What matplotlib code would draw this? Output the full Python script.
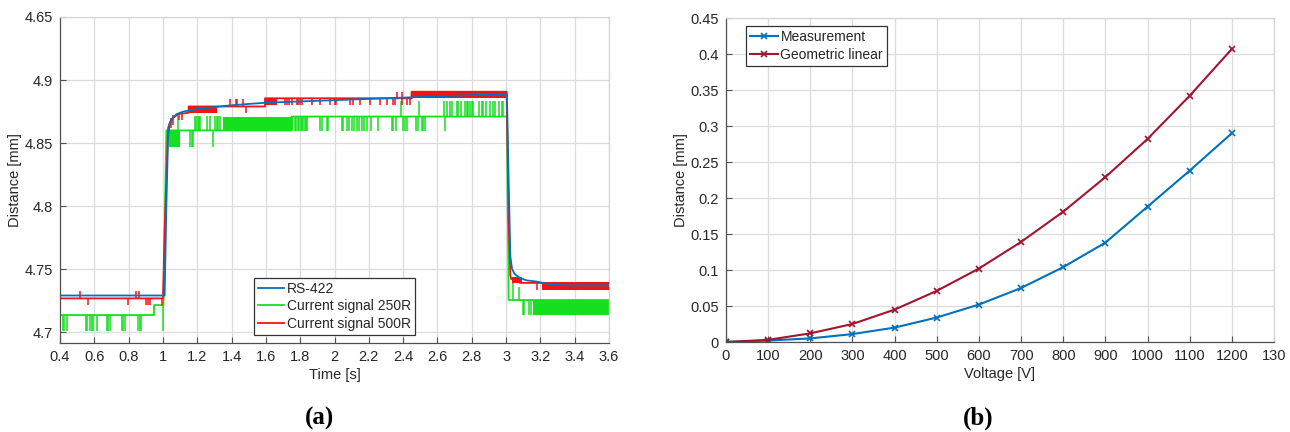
import matplotlib
matplotlib.use("Agg")
import matplotlib.pyplot as plt
import numpy as np

plt.rcParams['font.family'] = ['Liberation Sans', 'DejaVu Sans']

# ---------------- Panel (a) data ----------------
# RS-422 (blue)
rs_t = [0.40, 1.010, 1.020, 1.030, 1.040, 1.050, 1.080, 1.120, 1.200, 1.400, 1.600,
        2.000, 2.400, 2.800, 3.005, 3.015, 3.025, 3.035, 3.050, 3.080, 3.120, 3.180,
        3.250, 3.350, 3.600]
rs_v = [4.729, 4.729, 4.800, 4.855, 4.866, 4.869, 4.873, 4.875, 4.877, 4.880, 4.882,
        4.884, 4.886, 4.888, 4.889, 4.820, 4.760, 4.750, 4.746, 4.743, 4.741, 4.740,
        4.738, 4.737, 4.737]

# Current signal 500R (red) base level
r5_t = [0.40, 1.000, 1.012, 1.030, 1.040, 1.060, 1.090, 1.150, 1.150, 1.595, 1.595,
        2.449, 2.449, 3.003, 3.015, 3.025, 3.030, 3.080, 3.080, 3.600]
r5_v = [4.7267, 4.7267, 4.790, 4.862, 4.866, 4.870, 4.873, 4.874, 4.879, 4.879, 4.8855,
        4.8855, 4.8907, 4.8907, 4.790, 4.745, 4.742, 4.742, 4.739, 4.739]
# red spikes
r5_spk_t = [0.517, 0.843, 0.862, 0.565, 0.798, 0.901, 0.911, 0.924, 0.993,
            1.045, 1.060, 1.095, 1.113,
            1.391, 1.426, 1.433, 1.464, 1.484,
            1.711, 1.721, 1.736, 1.750, 1.779, 1.789, 1.799, 1.812, 1.867, 1.915,
            1.974, 2.003, 2.009, 2.090, 2.110, 2.149, 2.207, 2.265, 2.304, 2.343,
            2.353, 2.392, 2.421, 2.440, 2.362, 2.392, 3.178]
r5_spk_lo = [4.7267, 4.7267, 4.7267, 4.7214, 4.7214, 4.7214, 4.7214, 4.7214, 4.7214,
             4.862, 4.864, 4.868, 4.868,
             4.879, 4.879, 4.879, 4.879, 4.8736,
             4.880, 4.880, 4.880, 4.880, 4.880, 4.880, 4.880, 4.880, 4.880, 4.880,
             4.880, 4.880, 4.880, 4.880, 4.880, 4.880, 4.880, 4.880, 4.880, 4.880,
             4.880, 4.880, 4.880, 4.880, 4.8855, 4.8855, 4.733]
r5_spk_hi = [4.7328, 4.7328, 4.7328, 4.7267, 4.7267, 4.7267, 4.7267, 4.7267, 4.7267,
             4.870, 4.872, 4.874, 4.874,
             4.8846, 4.8846, 4.8846, 4.8846, 4.879,
             4.8855, 4.8855, 4.8855, 4.8855, 4.8855, 4.8855, 4.8855, 4.8855, 4.8855, 4.8855,
             4.8855, 4.8855, 4.8855, 4.8855, 4.8855, 4.8855, 4.8855, 4.8855, 4.8855, 4.8855,
             4.8855, 4.8855, 4.8855, 4.8855, 4.8907, 4.8907, 4.739]
# red dense bands (t0, t1, lo, hi)
r5_band_t0 = [1.154, 1.595, 2.449, 3.032, 3.207]
r5_band_t1 = [1.313, 1.663, 3.003, 3.090, 3.600]
r5_band_lo = [4.8736, 4.8800, 4.8855, 4.7386, 4.7330]
r5_band_hi = [4.8790, 4.8855, 4.8907, 4.7440, 4.7390]

# Current signal 250R (green) base level
g2_t = [0.40, 0.948, 0.948, 1.003, 1.010, 1.020, 1.020, 1.750, 1.750, 3.005, 3.015, 3.600]
g2_v = [4.7135, 4.7135, 4.7214, 4.7214, 4.780, 4.859, 4.860, 4.860, 4.871, 4.871, 4.7254, 4.7254]
# green spikes
g2_spk_t = [0.416, 0.423, 0.439, 0.550, 0.559, 0.575, 0.585, 0.594, 0.617, 0.672, 0.682,
            0.691, 0.760, 0.769, 0.779, 0.857, 0.864, 0.870, 1.000,
            1.090, 1.187, 1.195, 1.203, 1.211, 1.216, 1.255, 1.274, 1.303, 1.313, 1.323, 1.332,
            1.158, 1.167, 1.177, 1.293,
            1.770, 1.778, 1.786, 1.794, 1.802, 1.810, 1.818, 1.826, 1.834, 1.842,
            1.915, 1.925, 1.954, 1.963, 2.042, 2.051, 2.071, 2.085, 2.100, 2.114, 2.129,
            2.143, 2.158, 2.173, 2.188, 2.211, 2.255, 2.333, 2.343, 2.357, 2.401, 2.411,
            2.421, 2.473, 2.485, 2.508, 2.518, 2.527, 2.644,
            2.390, 2.494,
            2.640, 2.653, 2.673, 2.683, 2.712, 2.722, 2.736, 2.761, 2.771, 2.780, 2.790,
            2.800, 2.809, 2.844, 2.858, 2.867, 2.883, 2.906, 2.922, 2.936, 2.961, 2.975, 2.984,
            3.040, 3.077, 3.096, 3.106, 3.135, 3.145]
g2_spk_lo = [4.7008] * 18 + [4.7008] \
    + [4.860] * 12 \
    + [4.847] * 4 \
    + [4.8595] * 39 \
    + [4.871] * 2 \
    + [4.871] * 23 \
    + [4.7254, 4.7254, 4.7135, 4.7135, 4.7135, 4.7135]
g2_spk_hi = [4.7135] * 18 + [4.7214] \
    + [4.8714] * 12 \
    + [4.860] * 4 \
    + [4.871] * 39 \
    + [4.8836] * 2 \
    + [4.8836] * 23 \
    + [4.7410, 4.7360, 4.7254, 4.7254, 4.7254, 4.7254]
# green dense bands
g2_band_t0 = [1.035, 1.352, 3.159]
g2_band_t1 = [1.098, 1.760, 3.600]
g2_band_lo = [4.847, 4.860, 4.7135]
g2_band_hi = [4.860, 4.871, 4.7254]

a_yticks = [4.70, 4.75, 4.80, 4.85, 4.90, 4.95]
a_yticklabels = ["4.7", "4.75", "4.8", "4.85", "4.9", "4.65"]
a_xticks = [0.4, 0.6, 0.8, 1.0, 1.2, 1.4, 1.6, 1.8, 2.0, 2.2, 2.4, 2.6, 2.8, 3.0, 3.2, 3.4, 3.6]
a_xticklabels = ["0.4", "0.6", "0.8", "1", "1.2", "1.4", "1.6", "1.8", "2", "2.2", "2.4",
                 "2.6", "2.8", "3", "3.2", "3.4", "3.6"]

# ---------------- Panel (b) data ----------------
voltage = [0, 100, 200, 300, 400, 500, 600, 700, 800, 900, 1000, 1100, 1200]
measurement = [0.000, 0.002, 0.005, 0.011, 0.020, 0.034, 0.052, 0.075, 0.104, 0.138, 0.188, 0.238, 0.290]
geometric = [0.000, 0.003, 0.012, 0.025, 0.045, 0.071, 0.102, 0.139, 0.181, 0.229, 0.282, 0.342, 0.407]
b_xticks = list(range(0, 1301, 100))
b_xticklabels = [str(v) for v in range(0, 1201, 100)] + ["130"]
b_yticks = [0, 0.05, 0.1, 0.15, 0.2, 0.25, 0.3, 0.35, 0.4, 0.45]
b_yticklabels = ["0", "0.05", "0.1", "0.15", "0.2", "0.25", "0.3", "0.35", "0.4", "0.45"]

# ---------------- colours / style ----------------
C_BLUE = "#0072BD"
C_GREEN = "#14E01E"
C_RED = "#F01414"
C_DRED = "#A2142F"
GRID = "#DCDCDC"
AX = "#505050"
TXT = "#262626"
FS = 10.5
LFS = 10

fig = plt.figure(figsize=(12.9, 4.32), dpi=100)
W, H = 1290, 432


def frac(x0, y0, x1, y1):
    return [x0 / W, 1 - y1 / H, (x1 - x0) / W, (y1 - y0) / H]


def style(ax):
    ax.grid(True, color=GRID, lw=0.9)
    ax.set_axisbelow(True)
    for s in ["left", "bottom"]:
        ax.spines[s].set_color(AX)
        ax.spines[s].set_linewidth(0.9)
    for s in ["top", "right"]:
        ax.spines[s].set_color("#D4D4D4")
        ax.spines[s].set_linewidth(0.9)
    ax.tick_params(direction="in", length=4, width=0.8, color=AX, labelsize=FS,
                   labelcolor=TXT, pad=5)


# ---- (a) ----
ax1 = fig.add_axes(frac(60, 17, 609, 343))
style(ax1)
for t0, t1, lo, hi in zip(g2_band_t0, g2_band_t1, g2_band_lo, g2_band_hi):
    ax1.fill_between([t0, t1], [lo, lo], [hi, hi], color=C_GREEN, lw=0, zorder=2)
ax1.vlines(g2_spk_t, g2_spk_lo, g2_spk_hi, color=C_GREEN, lw=1.1, zorder=2)
lg, = ax1.plot(g2_t, g2_v, color=C_GREEN, lw=1.3, zorder=2, label="Current signal 250R")
for t0, t1, lo, hi in zip(r5_band_t0, r5_band_t1, r5_band_lo, r5_band_hi):
    ax1.fill_between([t0, t1], [lo, lo], [hi, hi], color=C_RED, lw=0, zorder=3)
ax1.vlines(r5_spk_t, r5_spk_lo, r5_spk_hi, color=C_RED, lw=1.1, zorder=3)
lr, = ax1.plot(r5_t, r5_v, color=C_RED, lw=1.3, zorder=3, label="Current signal 500R")
lb, = ax1.plot(rs_t, rs_v, color=C_BLUE, lw=1.3, zorder=4, label="RS-422")

ax1.set_xlim(0.4, 3.6)
ax1.set_ylim(4.6913, 4.95)
ax1.set_xticks(a_xticks)
ax1.set_xticklabels(a_xticklabels)
ax1.set_yticks(a_yticks)
ax1.set_yticklabels(a_yticklabels)
ax1.set_xlabel("Time [s]", fontsize=FS, color=TXT, labelpad=3)
ax1.set_ylabel("Distance [mm]", fontsize=FS, color=TXT, labelpad=2)
leg1 = ax1.legend(handles=[lb, lg, lr], loc="lower left", bbox_to_anchor=(0.353, 0.025),
                  borderaxespad=0, fancybox=False, edgecolor="#333333", framealpha=1,
                  fontsize=LFS, handlelength=1.9, handletextpad=0.2, borderpad=0.3,
                  labelspacing=0.25)
leg1.get_frame().set_linewidth(0.9)
for tx in leg1.get_texts():
    tx.set_color(TXT)

# ---- (b) ----
ax2 = fig.add_axes(frac(726, 18, 1274, 342))
style(ax2)
ax2.plot(voltage, measurement, color=C_BLUE, lw=1.5, marker="x", ms=4, mew=1.2,
         label="Measurement")
ax2.plot(voltage, geometric, color=C_DRED, lw=1.5, marker="x", ms=4, mew=1.2,
         label="Geometric linear")
ax2.set_xlim(0, 1300)
ax2.set_ylim(0, 0.45)
ax2.set_xticks(b_xticks)
ax2.set_xticklabels(b_xticklabels)
ax2.set_yticks(b_yticks)
ax2.set_yticklabels(b_yticklabels)
ax2.set_xlabel("Voltage [V]", fontsize=FS, color=TXT, labelpad=3)
ax2.set_ylabel("Distance [mm]", fontsize=FS, color=TXT, labelpad=2)
leg2 = ax2.legend(loc="upper left", bbox_to_anchor=(0.036, 0.975), borderaxespad=0,
                  fancybox=False, edgecolor="#333333", framealpha=1, fontsize=LFS,
                  handlelength=2.0, handletextpad=0.2, borderpad=0.3, labelspacing=0.25)
leg2.get_frame().set_linewidth(0.9)
for tx in leg2.get_texts():
    tx.set_color(TXT)

# panel labels
fig.text(320 / W, 1 - 418 / H, "(a)", ha="center", va="center", fontsize=18,
         fontweight="bold", family=["Liberation Serif", "DejaVu Serif"])
fig.text(978 / W, 1 - 418 / H, "(b)", ha="center", va="center", fontsize=18,
         fontweight="bold", family=["Liberation Serif", "DejaVu Serif"])

fig.savefig("out.png", dpi=100)
